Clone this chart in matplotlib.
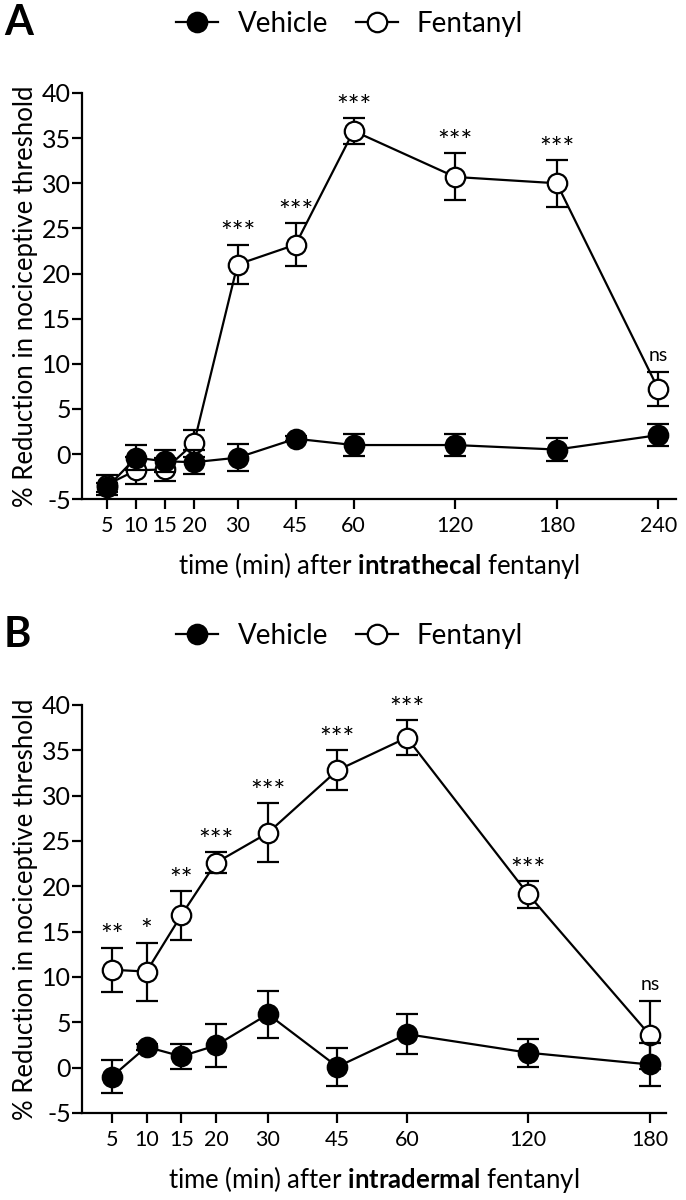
import matplotlib
matplotlib.use("Agg")
import matplotlib.pyplot as plt
from matplotlib.lines import Line2D

plt.rcParams['font.family'] = ['Lato', 'DejaVu Sans']
plt.rcParams['mathtext.fontset'] = 'custom'
plt.rcParams['mathtext.rm'] = 'Lato'
plt.rcParams['mathtext.bf'] = 'Lato:bold'
plt.rcParams['axes.unicode_minus'] = False

# Panel A: intrathecal fentanyl
times_a = ["5", "10", "15", "20", "30", "45", "60", "120", "180", "240"]
veh_a = [-3.7, -0.4, -0.8, -0.9, -0.4, 1.7, 1.0, 1.0, 0.5, 2.1]
veh_a_err = [0.5, 1.4, 1.2, 1.3, 1.5, 0.3, 1.25, 1.2, 1.3, 1.25]
fen_a = [-3.4, -1.8, -1.7, 1.2, 21.0, 23.2, 35.8, 30.7, 30.0, 7.2]
fen_a_err = [1.1, 1.5, 1.3, 1.5, 2.2, 2.4, 1.4, 2.6, 2.6, 1.9]
sig_a = ["", "", "", "", "***", "***", "***", "***", "***", "ns"]

# Panel B: intradermal fentanyl
times_b = ["5", "10", "15", "20", "30", "45", "60", "120", "180"]
veh_b = [-1.0, 2.3, 1.25, 2.45, 5.9, 0.1, 3.7, 1.65, 0.35]
veh_b_err = [1.8, 0.3, 1.35, 2.4, 2.6, 2.1, 2.2, 1.55, 2.35]
fen_b = [10.8, 10.6, 16.8, 22.6, 25.9, 32.8, 36.4, 19.1, 3.6]
fen_b_err = [2.45, 3.2, 2.7, 1.15, 3.25, 2.2, 1.95, 1.45, 3.7]
sig_b = ["**", "*", "**", "***", "***", "***", "***", "***", "ns"]

# uneven category spacing of the time axis
xpos = [0, 1, 2, 3, 4.5, 6.5, 8.5, 12, 15.5, 19]

fig = plt.figure(figsize=(6.86, 12), dpi=100)
ax_a = fig.add_axes([0.1195, 0.584, 0.8655, 0.3385])
ax_b = fig.add_axes([0.1195, 0.0725, 0.8515, 0.34])


def draw_panel(ax, times, veh, veh_err, fen, fen_err, sig, xmax, route):
    x = xpos[:len(times)]
    ax.errorbar(x, fen, yerr=fen_err, color='black', lw=1.6, marker='o',
                ms=14, mfc='white', mec='black', mew=1.6, capsize=8,
                capthick=1.6, elinewidth=1.6, zorder=2)
    ax.errorbar(x, veh, yerr=veh_err, color='black', lw=1.6, marker='o',
                ms=14, mfc='black', mec='black', mew=1.6, capsize=8,
                capthick=1.6, elinewidth=1.6, zorder=3)
    for xi, m, e, s in zip(x, fen, fen_err, sig):
        if not s:
            continue
        if s == 'ns':
            ax.text(xi, m + e + 0.9, s, ha='center', va='bottom', fontsize=14)
        else:
            ax.text(xi, m + e - 0.3, s, ha='center', va='bottom', fontsize=20)
    ax.set_xlim(-0.86, xmax)
    ax.set_ylim(-5, 40)
    ax.set_yticks(range(-5, 41, 5))
    ax.set_xticks(x)
    ax.set_xticklabels(times)
    ax.spines['top'].set_visible(False)
    ax.spines['right'].set_visible(False)
    ax.spines['left'].set_linewidth(1.6)
    ax.spines['bottom'].set_linewidth(1.6)
    ax.tick_params(axis='y', direction='out', length=7, width=1.6,
                   labelsize=18, pad=1)
    ax.tick_params(axis='x', direction='out', length=7, width=1.6,
                   labelsize=15.5, pad=5)
    ax.set_ylabel('% Reduction in nociceptive threshold', fontsize=18.5,
                  labelpad=3)
    ax.set_xlabel('time (min) after $\\mathbf{' + route + '}$ fentanyl',
                  fontsize=18.5, labelpad=10)


draw_panel(ax_a, times_a, veh_a, veh_a_err, fen_a, fen_a_err, sig_a,
           19.6, 'intrathecal')
draw_panel(ax_b, times_b, veh_b, veh_b_err, fen_b, fen_b_err, sig_b,
           15.97, 'intradermal')

handles = [
    Line2D([], [], color='black', lw=1.6, marker='o', ms=14,
           mfc='black', mec='black', mew=1.6),
    Line2D([], [], color='black', lw=1.6, marker='o', ms=14,
           mfc='white', mec='black', mew=1.6),
]
for y in (0.98, 0.47):
    fig.legend(handles, ['Vehicle', 'Fentanyl'], loc='center',
               bbox_to_anchor=(0.51, y), ncol=2, frameon=False,
               fontsize=20, handlelength=1.5, handletextpad=0.7,
               columnspacing=1.0)

fig.text(0.006, 0.981, 'A', fontsize=30, fontweight='bold', va='center')
fig.text(0.006, 0.471, 'B', fontsize=30, fontweight='bold', va='center')

fig.savefig('out.png', dpi=100)
